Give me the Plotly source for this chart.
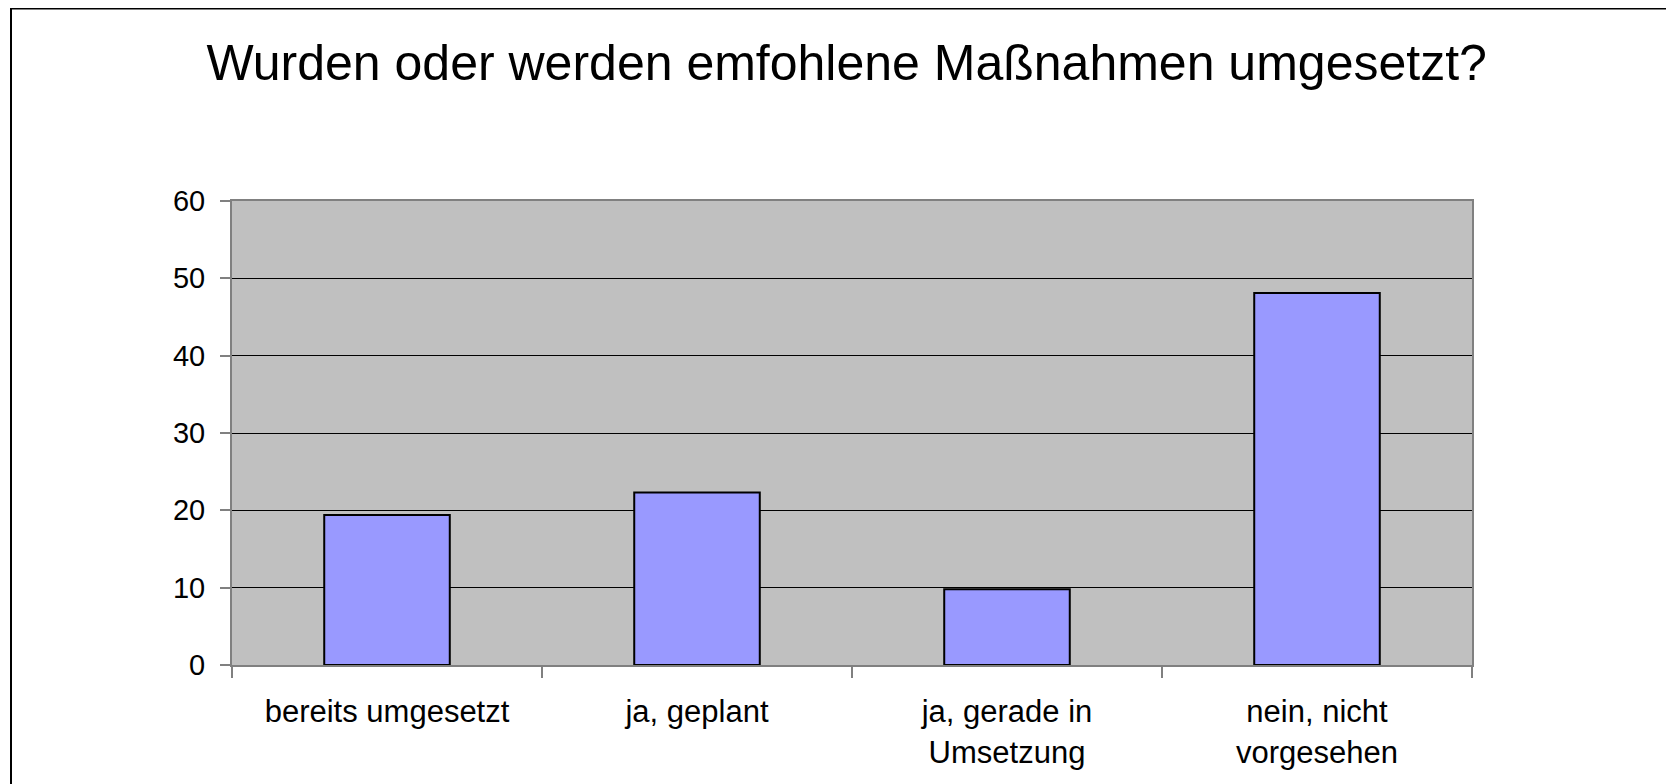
import plotly.graph_objects as go

categories = ["bereits umgesetzt", "ja, geplant", "ja, gerade in<br>Umsetzung", "nein, nicht<br>vorgesehen"]
values = [19.4, 22.3, 9.8, 48.1]
y_ticks = [0, 10, 20, 30, 40, 50, 60]
title_text = "Wurden oder werden emfohlene Maßnahmen umgesetzt?"

W, H = 1674, 784
OFF = 8  # page body margin
L, R, T, B = 232 - OFF, 1472 - OFF, 201 - OFF, 665 - OFF
pw, ph = R - L, B - T

def px(x):
    return (x - L) / pw

def py(y):
    return (B - y) / ph

fig = go.Figure()
fig.add_trace(go.Bar(
    x=categories, y=values, width=0.405,
    marker=dict(color="#9999FF", line=dict(color="#000000", width=2)),
    hoverinfo="x+y",
))

font_family = "Liberation Sans, Arial, sans-serif"

fig.update_layout(
    width=W, height=H,
    margin=dict(l=L, r=W - R, t=T, b=H - B, autoexpand=False),
    paper_bgcolor="white",
    plot_bgcolor="#C0C0C0",
    showlegend=False,
    font=dict(family=font_family, color="#000000", size=29),
    title=dict(text=title_text, x=0.4957, xanchor="center", xref="paper",
               y=1 - 54 / H, yanchor="middle", yref="container",
               font=dict(size=50, family=font_family, color="#000000")),
    shapes=[dict(type="rect", xref="paper", yref="paper",
                 x0=px(3), x1=px(W + 20), y0=py(0.5), y1=py(H + 20),
                 line=dict(color="#000000", width=2), fillcolor="rgba(0,0,0,0)",
                 layer="below")],
)

fig.update_xaxes(
    type="category", tickson="boundaries", ticks="outside", ticklen=11,
    tickcolor="#808080", tickwidth=1.5,
    showline=True, linecolor="#808080", linewidth=2, mirror=True,
    showgrid=False, ticklabelstandoff=18,
    tickfont=dict(size=31, family=font_family, color="#000000"),
)
fig.update_yaxes(
    range=[0, 60], tickvals=y_ticks, ticks="outside", ticklen=10,
    tickcolor="#808080", tickwidth=1.5,
    showline=True, linecolor="#808080", linewidth=2, mirror=True,
    showgrid=True, gridcolor="#000000", gridwidth=1, zeroline=False,
    ticklabelstandoff=9,
    tickfont=dict(size=29, family=font_family, color="#000000"),
)

fig.write_html("out.html")
